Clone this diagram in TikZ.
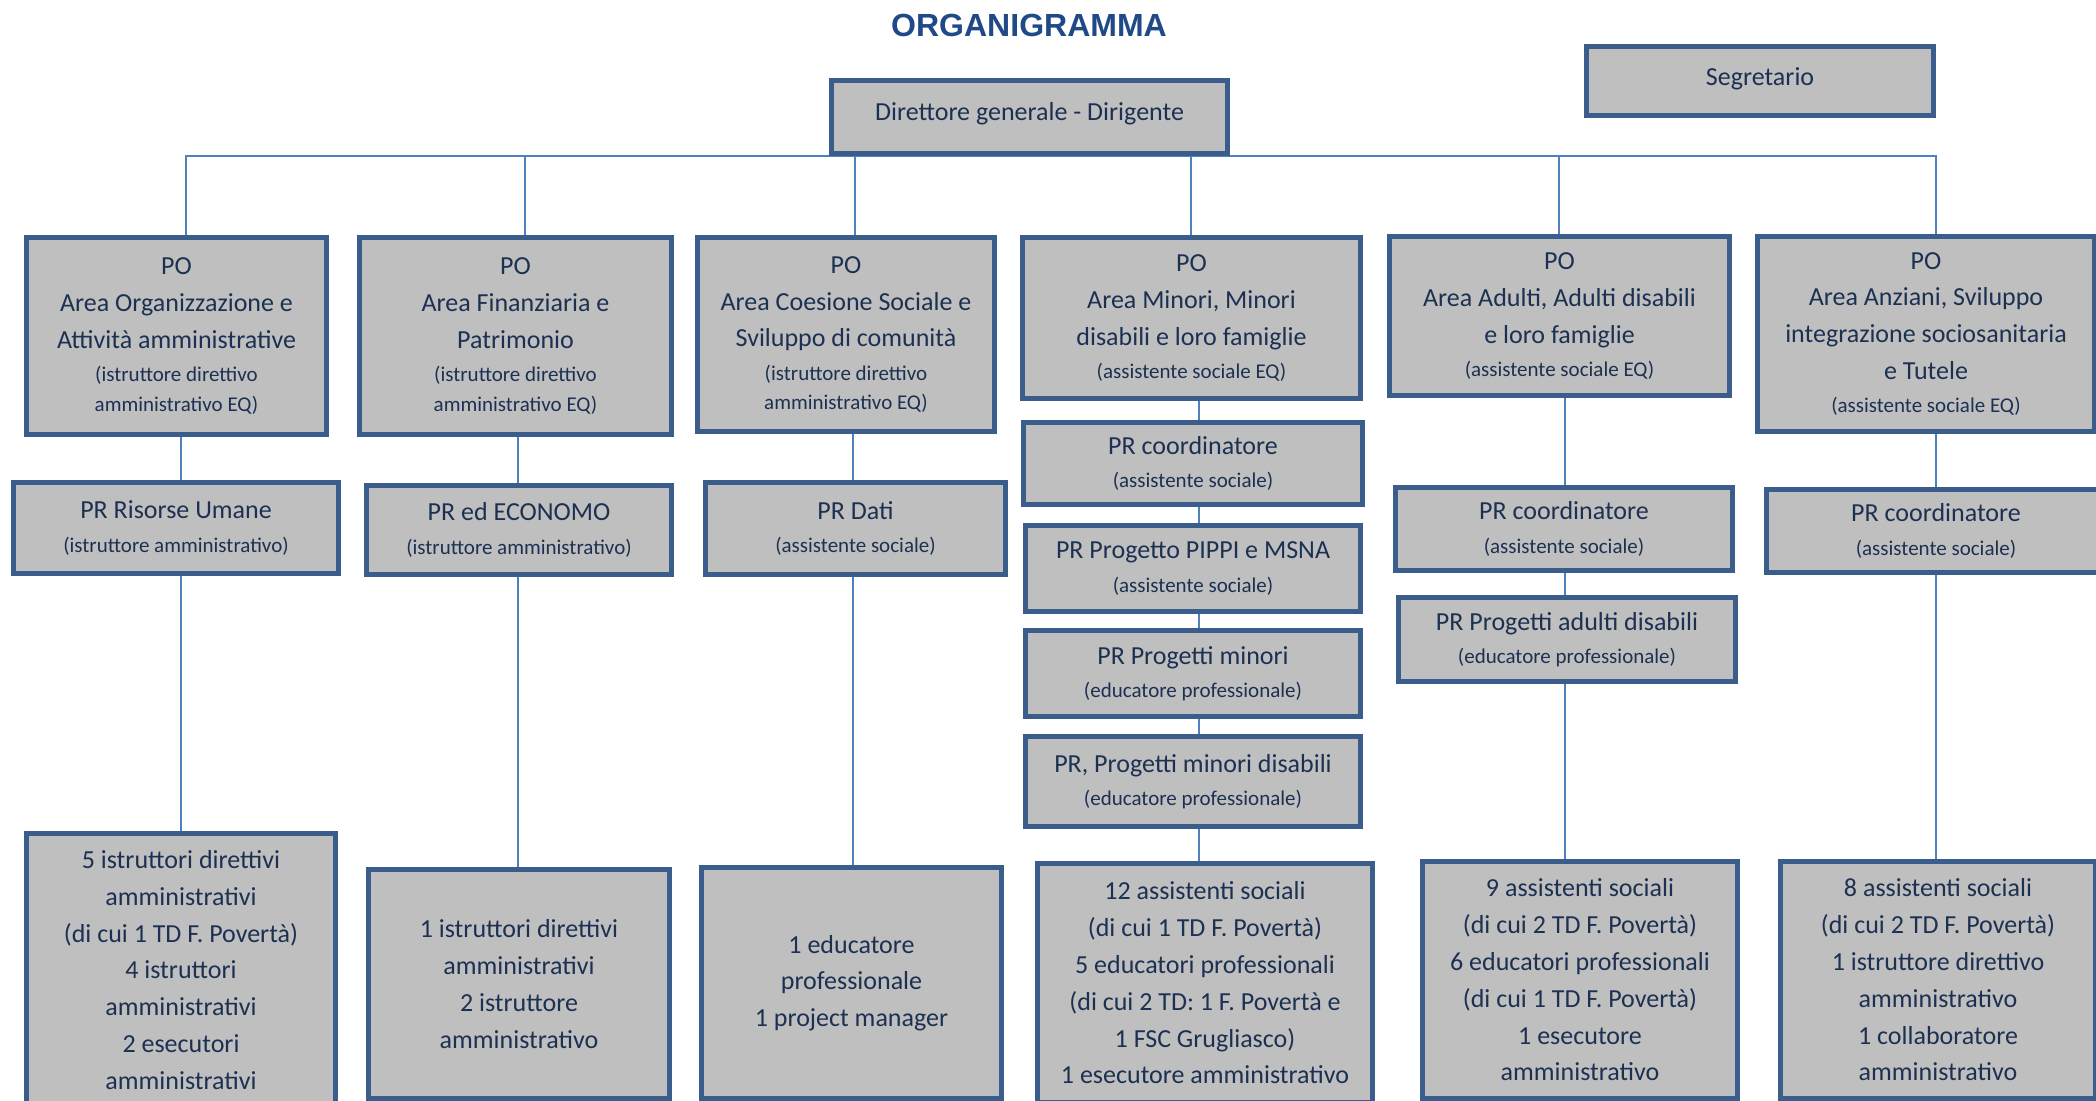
\documentclass[tikz,border=0pt]{standalone}
\usepackage{fontspec}
\setmainfont{Carlito}
\newfontfamily\titlefont{Liberation Sans}
\usetikzlibrary{backgrounds}
\definecolor{boxfill}{HTML}{BFBFBF}
\definecolor{boxline}{HTML}{3A5D8C}
\definecolor{txt}{HTML}{1C3152}
\definecolor{titlecol}{HTML}{1F4A87}
\definecolor{conncol}{HTML}{4F81BD}
\newcommand\bigf{\fontsize{13}{18.4}\selectfont}
\newcommand\smf{\fontsize{10.5}{14.7}\selectfont}
\tikzset{
  bx/.style 2 args={draw=boxline, line width=2.5pt, fill=boxfill, text=txt,
    align=center, font=\bigf, inner sep=1pt,
    minimum width={(#1-5)*0.5pt}, minimum height={(#2-5)*0.5pt}},
  conn/.style={draw=conncol, line width=0.75pt}
}
\begin{document}
\begin{tikzpicture}[x=0.5pt,y=-0.5pt]
\useasboundingbox (0,0) rectangle (2096,1101);
\clip (0,0) rectangle (2096,1101);

\node[font=\titlefont\bfseries\fontsize{16}{19}\selectfont, text=titlecol] (title) at (1029,25) {ORGANIGRAMMA};

\node[bx={401}{78}] (dir) at (1029.5,117) {\raisebox{5.5pt}{Direttore generale - Dirigente}};
\node[bx={352}{74}] (seg) at (1760,81) {\raisebox{4.5pt}{Segretario}};

% PO level
\node[bx={305}{202}] (po1) at (176.5,336) {PO\\Area Organizzazione e\\Attività amministrative\\[-1.7pt]{\smf (istruttore direttivo}\\[-3.7pt]{\smf amministrativo EQ)}};
\node[bx={317}{202}] (po2) at (515.5,336) {PO\\Area Finanziaria e\\Patrimonio\\[-1.7pt]{\smf (istruttore direttivo}\\[-3.7pt]{\smf amministrativo EQ)}};
\node[bx={302}{199}] (po3) at (846,334.5) {PO\\Area Coesione Sociale e\\Sviluppo di comunità\\[-1.7pt]{\smf (istruttore direttivo}\\[-3.7pt]{\smf amministrativo EQ)}};
\node[bx={343}{166}] (po4) at (1191.5,318) {PO\\Area Minori, Minori\\disabili e loro famiglie\\[-1.7pt]{\smf (assistente sociale EQ)}};
\node[bx={345}{164}] (po5) at (1559.5,316) {PO\\Area Adulti, Adulti disabili\\e loro famiglie\\[-1.7pt]{\smf (assistente sociale EQ)}};
\node[bx={342}{200}] (po6) at (1926,334) {PO\\Area Anziani, Sviluppo\\integrazione sociosanitaria\\e Tutele\\[-1.7pt]{\smf (assistente sociale EQ)}};

% PR level
\node[bx={330}{96}] (prru) at (176,528) {PR Risorse Umane\\[-1.7pt]{\smf (istruttore amministrativo)}};
\node[bx={310}{94}] (prec) at (519,530) {PR ed ECONOMO\\[-1.7pt]{\smf (istruttore amministrativo)}};
\node[bx={305}{97}] (prd) at (855.5,528.5) {PR Dati\\[-1.7pt]{\smf (assistente sociale)}};
\node[bx={344}{87}] (prc4) at (1193,463.5) {PR coordinatore\\[-1.7pt]{\smf (assistente sociale)}};
\node[bx={340}{91}] (prp) at (1193,568.5) {PR Progetto PIPPI e MSNA\\[-1.7pt]{\smf (assistente sociale)}};
\node[bx={340}{91}] (prm) at (1193,673.5) {PR Progetti minori\\[-1.7pt]{\smf (educatore professionale)}};
\node[bx={340}{95}] (prmd) at (1193,781.5) {PR, Progetti minori disabili\\[-1.7pt]{\smf (educatore professionale)}};
\node[bx={342}{88}] (prc5) at (1564,529) {PR coordinatore\\[-1.7pt]{\smf (assistente sociale)}};
\node[bx={342}{89}] (prad) at (1567,639.5) {PR Progetti adulti disabili\\[-1.7pt]{\smf (educatore professionale)}};
\node[bx={344}{88}] (prc6) at (1936,531) {PR coordinatore\\[-1.7pt]{\smf (assistente sociale)}};

% Bottom level
\node[bx={314}{278}] (b1) at (181,970) {5 istruttori direttivi\\amministrativi\\(di cui 1 TD F. Povertà)\\4 istruttori\\amministrativi\\2 esecutori\\amministrativi};
\node[bx={306}{234}] (b2) at (519,984) {1 istruttori direttivi\\amministrativi\\2 istruttore\\amministrativo};
\node[bx={305}{236}] (b3) at (851.5,983) {1 educatore\\professionale\\1 project manager};
\node[bx={340}{244}] (b4) at (1205,983) {12 assistenti sociali\\(di cui 1 TD F. Povertà)\\5 educatori professionali\\(di cui 2 TD: 1 F. Povertà e\\1 FSC Grugliasco)\\1 esecutore amministrativo};
\node[bx={320}{242}] (b5) at (1580,980) {9 assistenti sociali\\(di cui 2 TD F. Povertà)\\6 educatori professionali\\(di cui 1 TD F. Povertà)\\1 esecutore\\amministrativo};
\node[bx={320}{242}] (b6) at (1938,980) {8 assistenti sociali\\(di cui 2 TD F. Povertà)\\1 istruttore direttivo\\amministrativo\\1 collaboratore\\amministrativo};

% column helper coordinates
\coordinate (t1) at (186,0);
\coordinate (t2) at (525,0);
\coordinate (t3) at (855,0);
\coordinate (t4) at (1191,0);
\coordinate (t5) at (1559,0);
\coordinate (t6) at (1936,0);
\coordinate (c1) at (181,0);
\coordinate (c2) at (518,0);
\coordinate (c3) at (853,0);
\coordinate (c4) at (1199,0);
\coordinate (c5) at (1565,0);
\coordinate (c6) at (1936,0);

\begin{scope}[on background layer]
  % bus from director
  \draw[conn] (t1 |- po1.north) |- (t6 |- dir.south) -- (t6 |- po6.north);
  \draw[conn] (t2 |- po2.north) -- (t2 |- dir.south);
  \draw[conn] (t3 |- po3.north) -- (t3 |- dir.south);
  \draw[conn] (t4 |- po4.north) -- (t4 |- dir.south);
  \draw[conn] (t5 |- po5.north) -- (t5 |- dir.south);
  % column 1
  \draw[conn] (c1 |- po1.south) -- (c1 |- prru.north);
  \draw[conn] (c1 |- prru.south) -- (c1 |- b1.north);
  % column 2
  \draw[conn] (c2 |- po2.south) -- (c2 |- prec.north);
  \draw[conn] (c2 |- prec.south) -- (c2 |- b2.north);
  % column 3
  \draw[conn] (c3 |- po3.south) -- (c3 |- prd.north);
  \draw[conn] (c3 |- prd.south) -- (c3 |- b3.north);
  % column 4
  \draw[conn] (c4 |- po4.south) -- (c4 |- prc4.north);
  \draw[conn] (c4 |- prc4.south) -- (c4 |- prp.north);
  \draw[conn] (c4 |- prp.south) -- (c4 |- prm.north);
  \draw[conn] (c4 |- prm.south) -- (c4 |- prmd.north);
  \draw[conn] (c4 |- prmd.south) -- (c4 |- b4.north);
  % column 5
  \draw[conn] (c5 |- po5.south) -- (c5 |- prc5.north);
  \draw[conn] (c5 |- prc5.south) -- (c5 |- prad.north);
  \draw[conn] (c5 |- prad.south) -- (c5 |- b5.north);
  % column 6
  \draw[conn] (c6 |- po6.south) -- (c6 |- prc6.north);
  \draw[conn] (c6 |- prc6.south) -- (c6 |- b6.north);
\end{scope}
\end{tikzpicture}
\end{document}
